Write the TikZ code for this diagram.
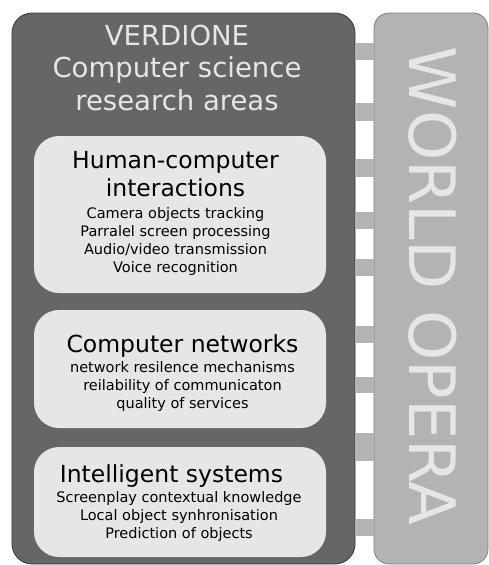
\documentclass[tikz,border=0pt]{standalone}
\usepackage{fontspec}
\setmainfont{DejaVu Sans}
\usetikzlibrary{positioning}
\definecolor{paneldark}{HTML}{666666}
\definecolor{panelline}{HTML}{383838}
\definecolor{operagray}{HTML}{B3B3B3}
\definecolor{operaline}{HTML}{7F7F7F}
\definecolor{areafill}{HTML}{E6E6E6}
\definecolor{paletext}{HTML}{E6E6E6}
\begin{document}
\begin{tikzpicture}[x=1pt,y=-1pt,
  panel/.style={draw=panelline, fill=paneldark, line width=0.8pt, rounded corners=20pt, inner sep=0pt},
  operapanel/.style={draw=operaline, fill=operagray, line width=0.8pt, rounded corners=15pt, inner sep=0pt},
  areabox/.style={fill=areafill, rounded corners=25pt, inner sep=0pt, minimum width=292pt},
  areatitle/.style={anchor=base, align=center, inner sep=0pt, font=\fontsize{23.5}{28}\selectfont},
  areaitems/.style={anchor=base, align=center, inner sep=0pt, font=\fontsize{14.5}{18}\selectfont},
  bar/.style={fill=operagray}]
\useasboundingbox (0,0) rectangle (489,565);
% === the two panels ===
\node[panel, minimum width=343pt, minimum height=551pt] (research) at (183.5,288.5) {};
\node[operapanel, minimum width=114pt, minimum height=551pt] (opera) at (431,288.5) {};
% links between the panels
\fill[bar] (research.east |- 0,43) rectangle (opera.west |- 0,60);
\fill[bar] (research.east |- 0,103) rectangle (opera.west |- 0,121);
\fill[bar] (research.east |- 0,159) rectangle (opera.west |- 0,177);
\fill[bar] (research.east |- 0,212) rectangle (opera.west |- 0,229);
\fill[bar] (research.east |- 0,259) rectangle (opera.west |- 0,276);
\fill[bar] (research.east |- 0,326) rectangle (opera.west |- 0,343);
\fill[bar] (research.east |- 0,377) rectangle (opera.west |- 0,393);
\fill[bar] (research.east |- 0,433) rectangle (opera.west |- 0,461);
\fill[bar] (research.east |- 0,519) rectangle (opera.west |- 0,536);
\node[rotate=-90, inner sep=0pt, text=paletext, font=\fontsize{64}{64}\selectfont] (operaname) at (432.5,286) {WORLD OPERA};
% === heading (base = last line) ===
\node[anchor=base, align=center, inner sep=0pt, text=paletext, font=\fontsize{27.5}{32.5}\selectfont] (heading) at (177,110)
  {VERDIONE\\Computer science\\research areas};
% === research areas ===
\node[areabox, minimum height=157pt] (hci) at (180,214.5) {};
\node[areatitle] (hcititle) at (175.5,196) {Human-computer\\interactions};
\node[areaitems] (hciitems) at (175.5,272) {Camera objects tracking\\Parralel screen processing\\Audio/video transmission\\Voice recognition};
\node[areabox, minimum height=118pt] (net) at (180,369) {};
\node[areatitle] (nettitle) at (182.5,352) {Computer networks};
\node[areaitems] (netitems) at (182.5,408) {network resilence mechanisms\\reilability of communicaton\\quality of services};
\node[areabox, minimum height=110pt] (intel) at (180,502) {};
\node[areatitle] (inteltitle) at (171.5,482) {Intelligent systems};
\node[areaitems] (intelitems) at (179,538) {Screenplay contextual knowledge\\Local object synhronisation\\Prediction of objects};
\end{tikzpicture}
\end{document}
